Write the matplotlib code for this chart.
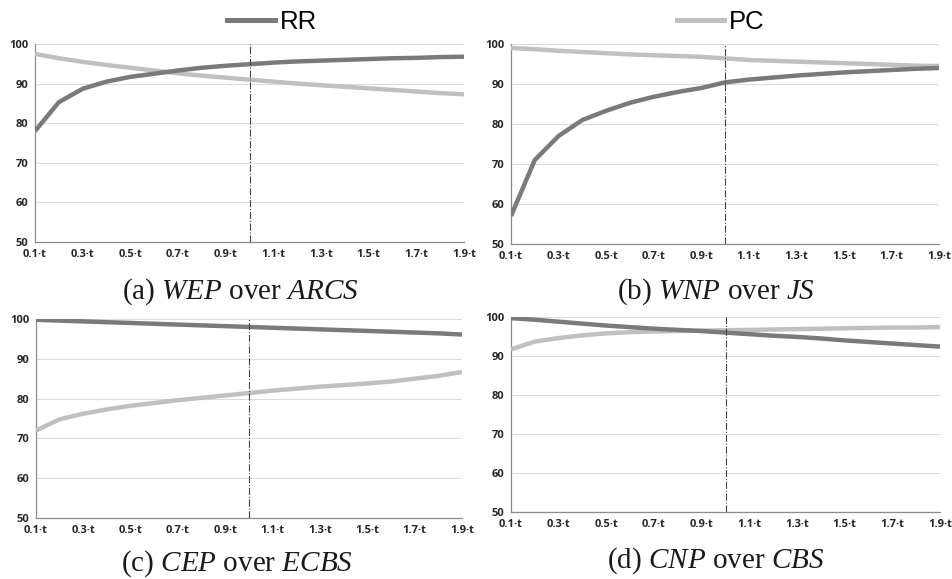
import matplotlib.pyplot as plt
from matplotlib.lines import Line2D

plt.rcParams['mathtext.fontset'] = 'custom'
plt.rcParams['mathtext.rm'] = 'Liberation Serif'
plt.rcParams['mathtext.it'] = 'Liberation Serif:italic'

# x positions: multiples of t
x = [0.1, 0.2, 0.3, 0.4, 0.5, 0.6, 0.7, 0.8, 0.9, 1.0,
     1.1, 1.2, 1.3, 1.4, 1.5, 1.6, 1.7, 1.8, 1.9]
tick_pos = [0.1, 0.3, 0.5, 0.7, 0.9, 1.1, 1.3, 1.5, 1.7, 1.9]
tick_labels = ["0.1·t", "0.3·t", "0.5·t", "0.7·t", "0.9·t",
               "1.1·t", "1.3·t", "1.5·t", "1.7·t", "1.9·t"]

# (a) WEP over ARCS
rr_a = [78.0, 85.3, 88.7, 90.5, 91.7, 92.5, 93.3, 94.0, 94.5, 94.9,
        95.3, 95.6, 95.8, 96.0, 96.2, 96.4, 96.5, 96.7, 96.8]
pc_a = [97.5, 96.4, 95.5, 94.7, 94.0, 93.3, 92.6, 92.0, 91.5, 91.0,
        90.5, 90.0, 89.6, 89.2, 88.8, 88.4, 88.0, 87.6, 87.3]
# (b) WNP over JS
rr_b = [57.0, 71.0, 77.0, 81.0, 83.3, 85.3, 86.8, 88.0, 89.0, 90.4,
        91.1, 91.6, 92.1, 92.5, 92.9, 93.2, 93.5, 93.8, 94.0]
pc_b = [99.0, 98.7, 98.3, 98.0, 97.7, 97.4, 97.2, 97.0, 96.8, 96.4,
        96.0, 95.8, 95.6, 95.4, 95.2, 95.0, 94.8, 94.6, 94.5]
# (c) CEP over ECBS
rr_c = [99.8, 99.6, 99.4, 99.2, 99.0, 98.8, 98.6, 98.4, 98.2, 98.0,
        97.8, 97.6, 97.4, 97.2, 97.0, 96.8, 96.6, 96.4, 96.1]
pc_c = [72.0, 74.8, 76.2, 77.3, 78.2, 78.9, 79.6, 80.2, 80.8, 81.4,
        82.0, 82.5, 83.0, 83.4, 83.8, 84.3, 85.0, 85.7, 86.7]
# (d) CNP over CBS
rr_d = [99.7, 99.3, 98.8, 98.3, 97.8, 97.4, 97.0, 96.7, 96.4, 96.0,
        95.6, 95.2, 94.9, 94.5, 94.0, 93.6, 93.2, 92.8, 92.4]
pc_d = [91.7, 93.7, 94.6, 95.3, 95.8, 96.1, 96.3, 96.4, 96.5, 96.6,
        96.7, 96.8, 96.9, 97.0, 97.1, 97.2, 97.3, 97.3, 97.4]

RR_COLOR = '#7a7a7a'
PC_COLOR = '#c0c0c2'

W, H = 952, 579
fig = plt.figure(figsize=(9.52, 5.79), dpi=100)

def px_axes(left, right, top, bottom):
    return fig.add_axes([left / W, 1 - bottom / H, (right - left) / W, (bottom - top) / H])

panels = [
    (px_axes(35, 464, 44, 242), rr_a, pc_a, r"(a) $\mathit{WEP}$ over $\mathit{ARCS}$", (240, 292)),
    (px_axes(511, 939, 44, 244), rr_b, pc_b, r"(b) $\mathit{WNP}$ over $\mathit{JS}$", (716, 292)),
    (px_axes(36, 462, 319, 518), rr_c, pc_c, r"(c) $\mathit{CEP}$ over $\mathit{ECBS}$", (237, 564)),
    (px_axes(511, 940, 317, 512), rr_d, pc_d, r"(d) $\mathit{CNP}$ over $\mathit{CBS}$", (716, 561)),
]

for ax, rr, pc, caption, (cx, cy) in panels:
    ax.plot(x, pc, color=PC_COLOR, lw=3.2, solid_capstyle='butt', zorder=3)
    ax.plot(x, rr, color=RR_COLOR, lw=3.2, solid_capstyle='butt', zorder=4)
    ax.axvline(1.0, color='#444444', lw=0.8, linestyle='-.', zorder=5)
    ax.set_xlim(0.1, 1.9)
    ax.set_ylim(50, 100)
    ax.set_yticks([50, 60, 70, 80, 90, 100])
    ax.set_xticks(tick_pos)
    ax.set_xticklabels(tick_labels)
    ax.grid(axis='y', color='#dcdcdc', lw=0.8)
    ax.set_axisbelow(True)
    for s in ['top', 'right']:
        ax.spines[s].set_visible(False)
    for s in ['left', 'bottom']:
        ax.spines[s].set_color('#8c8c8c')
        ax.spines[s].set_linewidth(0.9)
    ax.tick_params(length=0, pad=5, labelsize=8, labelcolor='#262626')
    for lbl in ax.get_xticklabels() + ax.get_yticklabels():
        lbl.set_fontfamily('Open Sans')
        lbl.set_fontweight('bold')
    fig.text(cx / W, 1 - cy / H, caption, ha='center', va='center',
             fontsize=21, family='Liberation Serif', color='#1a1a1a')

handles = [Line2D([], [], color=RR_COLOR, lw=3.6), Line2D([], [], color=PC_COLOR, lw=3.6)]
fig.legend(handles, ['RR', 'PC'], loc='center', bbox_to_anchor=(496 / W, 1 - 22 / H),
           ncol=2, frameon=False, handlelength=1.85, handletextpad=0.2,
           columnspacing=14.0, prop={'family': 'Liberation Sans', 'size': 18.5})

fig.savefig('out.png', dpi=100)
